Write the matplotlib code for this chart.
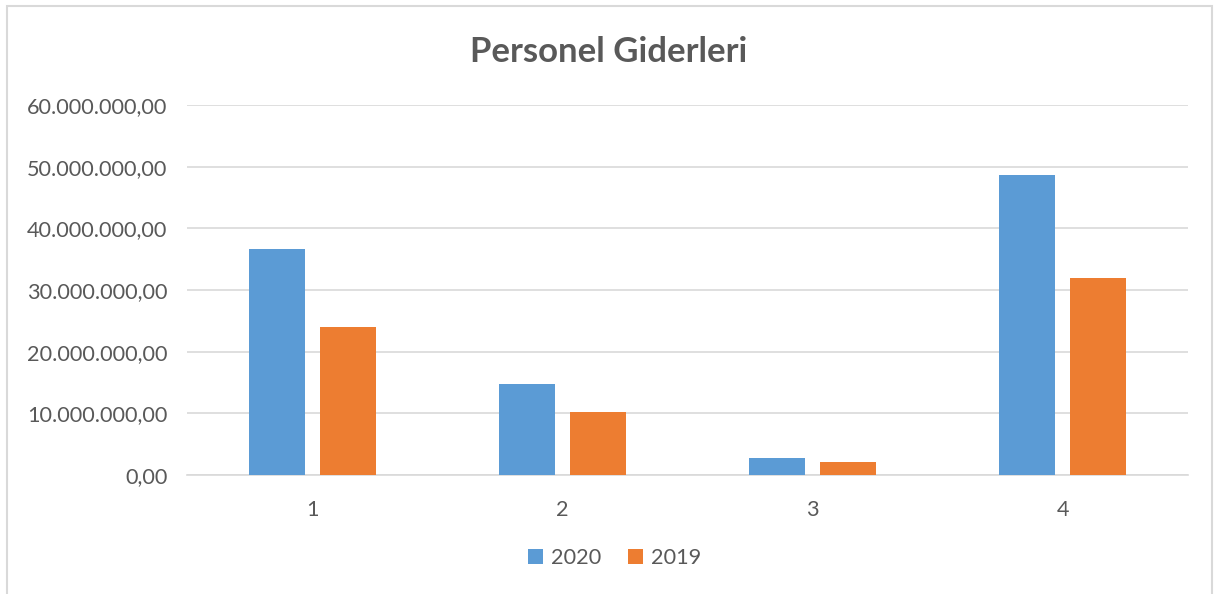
import matplotlib.pyplot as plt
import numpy as np
from matplotlib.patches import Rectangle
from matplotlib.ticker import FuncFormatter

plt.rcParams["font.family"] = ["Lato", "DejaVu Sans"]

categories = ["1", "2", "3", "4"]
values_2020 = [36_600_000, 14_800_000, 2_800_000, 48_600_000]
values_2019 = [24_000_000, 10_200_000, 2_100_000, 32_000_000]
yticks = [0, 10_000_000, 20_000_000, 30_000_000, 40_000_000, 50_000_000, 60_000_000]

BLUE = "#5B9BD5"
ORANGE = "#ED7D31"
TEXT = "#595959"
GRID = "#D9D9D9"


def tr_format(v, pos):
    s = f"{v:,.2f}"
    return s.replace(",", "X").replace(".", ",").replace("X", ".")


fig = plt.figure(figsize=(12.17, 5.94), dpi=100)
ax = fig.add_axes([0.1537, 0.2003, 0.8225, 0.6229])

x = np.arange(len(categories))
w = 0.224
gap = 0.06
ax.bar(x - (w + gap) / 2, values_2020, w, color=BLUE, label="2020", zorder=3)
ax.bar(x + (w + gap) / 2, values_2019, w, color=ORANGE, label="2019", zorder=3)

ax.set_xlim(-0.5, len(categories) - 0.5)
ax.set_ylim(0, 60_000_000)
ax.set_yticks(yticks)
ax.yaxis.set_major_formatter(FuncFormatter(tr_format))
ax.set_xticks(x)
ax.set_xticklabels(categories)

ax.grid(axis="y", color=GRID, linewidth=1.2, zorder=0)
for side in ["top", "right", "left"]:
    ax.spines[side].set_visible(False)
ax.spines["bottom"].set_color(GRID)
ax.spines["bottom"].set_linewidth(1.2)
ax.tick_params(axis="both", length=0, labelsize=15.6, colors=TEXT)
ax.tick_params(axis="y", pad=14)
ax.tick_params(axis="x", pad=18)

fig.text(0.5, 0.913, "Personel Giderleri", ha="center", va="center",
         fontsize=25, fontweight="bold", color=TEXT)

fig.legend(loc="center", bbox_to_anchor=(0.505, 0.06), ncol=2, frameon=False,
           fontsize=15.6, labelcolor=TEXT, handlelength=0.7, handleheight=0.7,
           handletextpad=0.4, columnspacing=1.2)

fig.patches.append(Rectangle((7 / 1217, -0.01), 1205 / 1217, 1 - 6 / 594 + 0.01,
                             transform=fig.transFigure, fill=False,
                             edgecolor=GRID, linewidth=1.5))

fig.savefig("out.png", dpi=100)
